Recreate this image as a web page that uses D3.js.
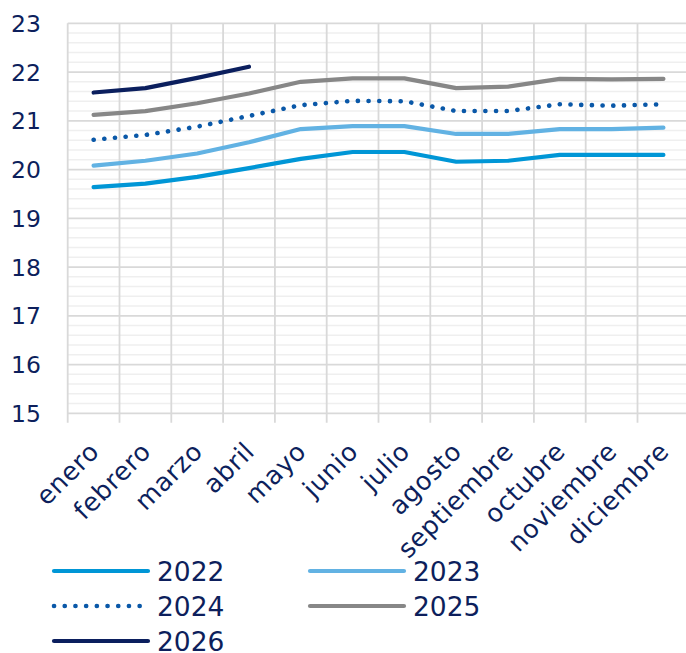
<!DOCTYPE html>
<html>
<head>
<meta charset="utf-8">
<script src="https://cdn.jsdelivr.net/npm/d3@7"></script>
<style>
  html, body { margin: 0; padding: 0; background: #ffffff; overflow: hidden; }
  svg { display: block; font-family: "DejaVu Sans", "Noto Sans", sans-serif; }
</style>
</head>
<body>
<svg id="chart" width="686" height="653"></svg>
<script>
const months = ["enero","febrero","marzo","abril","mayo","junio","julio","agosto","septiembre","octubre","noviembre","diciembre"];
const yTicks = [15,16,17,18,19,20,21,22,23];
const s2022 = [19.64,19.71,19.85,20.03,20.22,20.36,20.36,20.16,20.18,20.30,20.30,20.30];
const s2023 = [20.08,20.18,20.33,20.56,20.83,20.89,20.89,20.73,20.73,20.83,20.83,20.86];
const s2024 = [20.61,20.71,20.88,21.10,21.32,21.41,21.40,21.20,21.20,21.34,21.31,21.34];
const s2025 = [21.12,21.20,21.36,21.56,21.80,21.87,21.87,21.67,21.70,21.86,21.85,21.86];
const s2026 = [21.58,21.67,21.88,22.11];
const seriesNames = ["2022","2023","2024","2025","2026"];
const seriesValues = [s2022, s2023, s2024, s2025, s2026];
const seriesColors = ["#0096d6","#62b2e3","#0a58a8","#878787","#0b1f5e"];
const seriesDotted = [false,false,true,false,false];

const textColor = "#0d1f5c";
const svg = d3.select("#chart");

const plotLeft = 67.7, plotTop = 23.3, plotBottom = 413.3, bandW = 51.8;
const x = d3.scaleBand().domain(months).range([plotLeft, plotLeft + bandW * months.length]).paddingInner(0).paddingOuter(0);
const y = d3.scaleLinear().domain([15, 23]).range([plotBottom, plotTop]);
const xc = m => x(m) + x.bandwidth() / 2;

const grid = svg.append("g");
const minor = d3.range(15, 23.001, 0.2).filter(v => Math.abs(v - Math.round(v)) > 0.01);
grid.selectAll("line.minor").data(minor).join("line")
  .attr("x1", plotLeft).attr("x2", 700)
  .attr("y1", d => y(d)).attr("y2", d => y(d))
  .attr("stroke", "#efefef").attr("stroke-width", 1.5);
grid.selectAll("line.major").data(yTicks).join("line")
  .attr("x1", plotLeft).attr("x2", 700)
  .attr("y1", d => y(d)).attr("y2", d => y(d))
  .attr("stroke", "#d9d9d9").attr("stroke-width", 1.8);
const bounds = months.map(m => x(m)).concat([x(months[months.length-1]) + x.bandwidth()]);
grid.selectAll("line.v").data(bounds).join("line")
  .attr("x1", d => d).attr("x2", d => d)
  .attr("y1", plotTop).attr("y2", plotBottom + 9.5)
  .attr("stroke", "#d9d9d9").attr("stroke-width", 1.8);

svg.append("g").selectAll("text").data(yTicks).join("text")
  .attr("x", 41).attr("y", d => y(d)).attr("dy", "0.36em")
  .attr("text-anchor", "end")
  .attr("font-size", 23.5).attr("fill", textColor)
  .text(d => d);

svg.append("g").selectAll("text").data(months).join("text")
  .attr("transform", m => `translate(${xc(m) + 7},${453}) rotate(-45)`)
  .attr("text-anchor", "end")
  .attr("font-size", 25.5).attr("letter-spacing", 0.6).attr("fill", textColor)
  .text(m => m);

const line = d3.line().x((d, i) => xc(months[i])).y(d => y(d));
seriesValues.forEach((vals, k) => {
  svg.append("path")
    .datum(vals)
    .attr("d", line)
    .attr("fill", "none")
    .attr("stroke", seriesColors[k])
    .attr("stroke-width", seriesDotted[k] ? 4.6 : 4.2)
    .attr("stroke-linecap", "round")
    .attr("stroke-linejoin", "round")
    .attr("stroke-dasharray", seriesDotted[k] ? "0.1,10.6" : null);
});

const legendPos = [[54,571],[310,571],[54,606],[310,606],[54,641]];
const lg = svg.append("g");
seriesNames.forEach((name, k) => {
  const [lx, ly] = legendPos[k];
  lg.append("line")
    .attr("x1", lx).attr("x2", lx + 94)
    .attr("y1", ly).attr("y2", ly)
    .attr("stroke", seriesColors[k])
    .attr("stroke-width", seriesDotted[k] ? 4.6 : 4.2)
    .attr("stroke-linecap", "round")
    .attr("stroke-dasharray", seriesDotted[k] ? "0.1,10.6" : null);
  lg.append("text")
    .attr("x", lx + 103).attr("y", ly).attr("dy", "0.36em")
    .attr("font-size", 26.5).attr("fill", textColor)
    .text(name);
});
</script>
</body>
</html>
